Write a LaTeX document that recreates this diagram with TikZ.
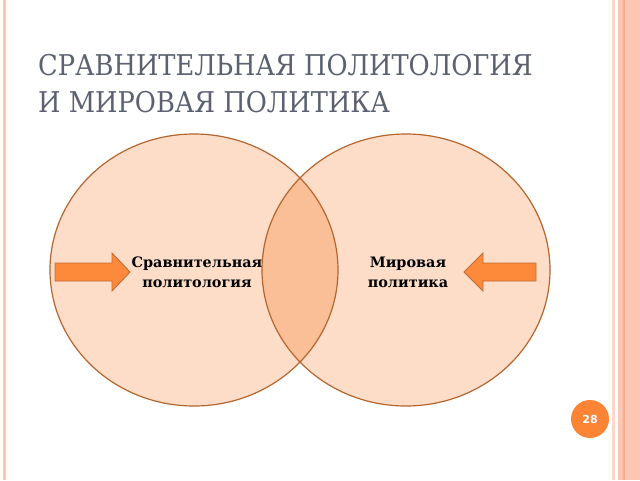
\documentclass[tikz,border=0pt]{standalone}
\usepackage{fontspec}
\setmainfont{DejaVu Serif}
\newfontfamily\titlefont{DejaVu Serif Condensed}
\newfontfamily\numfont{DejaVu Sans}
\usepackage{tikz}
\usetikzlibrary{positioning}
\definecolor{circfill}{HTML}{FDDDC8}
\definecolor{lensfill}{HTML}{FBBF98}
\definecolor{circline}{HTML}{B5652E}
\definecolor{arrfill}{HTML}{FD8A3B}
\definecolor{arrline}{HTML}{C06A35}
\definecolor{titlegray}{HTML}{5B6170}
\definecolor{stripe}{HTML}{FDC6B2}
\definecolor{stripedark}{HTML}{F6AE90}
\definecolor{numorange}{HTML}{FB8534}

\begin{document}
\begin{tikzpicture}[x=1pt,y=-1pt,
    titletext/.style={anchor=base west,inner sep=0pt,text=titlegray,
      font=\titlefont\fontsize{28.6}{35}\selectfont},
    setlabel/.style={align=center,inner sep=0pt,
      font=\bfseries\fontsize{14.4}{20}\selectfont},
    blockarrow/.style={fill=arrfill,draw=arrline,line width=0.9pt,line join=miter}]

        \def\ly{270}
        \def\rx{144}
        \def\ry{136}

        \useasboundingbox[fill=white] (0,0) rectangle (640,480);

        % side stripes
        \fill[stripe] (3,0) rectangle (6,480);
        \fill[stripe!70] (611.5,0) rectangle (614.5,480);
        \fill[stripe] (618,0) rectangle (640,480);
        \draw[stripedark,line width=1.5pt] (624,0) -- (624,480);

        \node[titletext] (title1) at (38,75) {СРАВНИТЕЛЬНАЯ ПОЛИТОЛОГИЯ};
        \node[titletext] (title2) at (38,112) {И МИРОВАЯ ПОЛИТИКА};

        % the two sets
        \fill[circfill] (194,\ly) ellipse [x radius=\rx,y radius=\ry];
        \fill[circfill] (406,\ly) ellipse [x radius=\rx,y radius=\ry];
        \begin{scope}
          \clip (194,\ly) ellipse [x radius=\rx,y radius=\ry];
          \fill[lensfill] (406,\ly) ellipse [x radius=\rx,y radius=\ry];
        \end{scope}
        \draw[circline,line width=1.2pt] (194,\ly) ellipse [x radius=\rx,y radius=\ry];
        \draw[circline,line width=1.2pt] (406,\ly) ellipse [x radius=\rx,y radius=\ry];

        \draw[blockarrow] (55,263) -- (112,263) -- (112,253) -- (130,272)
              -- (112,291) -- (112,281) -- (55,281) -- cycle;
        \draw[blockarrow] (536,263) -- (483,263) -- (483,253) -- (464,272)
              -- (483,291) -- (483,281) -- (536,281) -- cycle;

        \node[setlabel] (comp) at (197,272) {Сравнительная\\политология};
        \node[setlabel] (world) at (408,272) {Мировая\\политика};

        \fill[numorange] (590,419) circle (19);
        \node[text=white,font=\numfont\bfseries\fontsize{11}{13}\selectfont] (page) at (590,419) {28};

\end{tikzpicture}
\end{document}
